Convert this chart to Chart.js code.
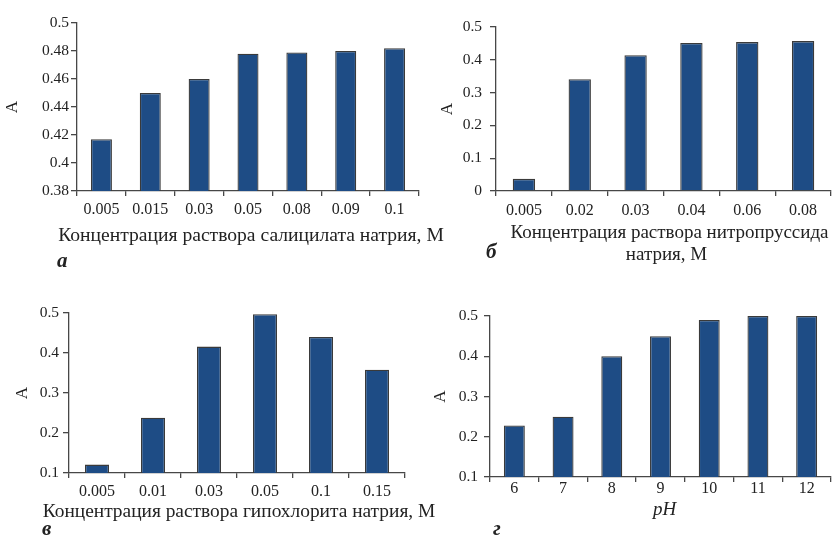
<!DOCTYPE html>
<html><head><meta charset="utf-8">
<script src="https://cdn.jsdelivr.net/npm/chart.js@4/dist/chart.umd.min.js"></script>
<style>
html,body{margin:0;padding:0;background:#fff;}
#wrap{position:relative;width:836px;height:535px;overflow:hidden;background:#fff;}
canvas{position:absolute;}
.lt{position:absolute;font-family:"Liberation Serif",serif;font-style:italic;font-weight:bold;font-size:21px;color:#222;line-height:1;}
</style></head>
<body><div id="wrap">
<canvas id="ca" width="460" height="270" style="left:0;top:0"></canvas>
<canvas id="cb" width="418" height="270" style="left:418px;top:0"></canvas>
<canvas id="cc" width="460" height="270" style="left:0;top:265px"></canvas>
<canvas id="cd" width="418" height="270" style="left:418px;top:265px"></canvas>
<div class="lt" style="left:57px;top:250px">а</div>
<div class="lt" style="left:486px;top:241px">б</div>
<div class="lt" style="left:42px;top:518px">в</div>
<div class="lt" style="left:493px;top:518px">г</div>
</div>
<script>
// Panel а: sodium salicylate
const catsA = ['0.005','0.015','0.03','0.05','0.08','0.09','0.1'];
const valsA = [0.417,0.450,0.460,0.478,0.479,0.480,0.482];
// Panel б: sodium nitroprusside
const catsB = ['0.005','0.02','0.03','0.04','0.06','0.08'];
const valsB = [0.037,0.341,0.414,0.451,0.454,0.457];
// Panel в: sodium hypochlorite
const catsC = ['0.005','0.01','0.03','0.05','0.1','0.15'];
const valsC = [0.121,0.238,0.416,0.497,0.440,0.358];
// Panel г: pH
const catsD = ['6','7','8','9','10','11','12'];
const valsD = [0.228,0.250,0.400,0.450,0.490,0.500,0.500];

const titleA = ['Концентрация раствора салицилата натрия, М'];
const titleB = ['Концентрация раствора нитропруссида','натрия, М'];
const titleC = ['Концентрация раствора гипохлорита натрия, М'];
const titleD = ['pH'];
const yTitle = 'A';

const FONT = "'Liberation Serif', 'Times New Roman', serif";
const AX = '#474747';

// draws the x-axis title without Chart.js's width squeezing
const xTitlePlugin = {
  id:'xtitle',
  afterDraw(chart, args, opts){
    if(!opts || !opts.lines) return;
    const ctx = chart.ctx, ca = chart.chartArea;
    ctx.save();
    ctx.fillStyle = '#222';
    ctx.font = (opts.style||'normal') + ' ' + opts.size + 'px ' + FONT;
    ctx.textAlign = 'center';
    ctx.textBaseline = 'middle';
    opts.lines.forEach((t,i)=>{
      const dx = (opts.dx && opts.dx[i]) || 0;
      ctx.fillText(t, (ca.left+ca.right)/2 + dx, opts.y + i*opts.lh);
    });
    ctx.restore();
  }
};

function makeChart(id, cats, vals, xTitle, o){
  new Chart(document.getElementById(id), {
    type:'bar',
    data:{labels:cats, datasets:[{data:vals, backgroundColor:'#1e4c85', borderColor:'#3a3a3a', borderWidth:1.3, barPercentage:o.bp, categoryPercentage:1}]},
    plugins:[xTitlePlugin],
    options:{
      responsive:false, animation:false, devicePixelRatio:1,
      layout:{padding:{left:0, top:o.top, right:o.right, bottom:0}},
      plugins:{legend:{display:false}, tooltip:{enabled:false},
        xtitle:{lines:xTitle, size:o.ts, style:o.xstyle, y:o.ty, lh:o.tlh||22, dx:o.tdx}},
      scales:{
        x:{
          offset:true,
          grid:{display:true, offset:true, drawOnChartArea:false, drawTicks:true, tickLength:5, color:AX, lineWidth:1.3},
          border:{display:true, color:AX, width:1.3},
          ticks:{font:{family:FONT, size:16}, color:'#222', padding:o.xpad, maxRotation:0, autoSkip:false},
          title:{display:false},
          afterFit:(s)=>{s.height=o.xh;}
        },
        y:{
          min:o.min, max:o.max,
          grid:{display:true, drawOnChartArea:false, drawTicks:true, tickLength:6, color:AX, lineWidth:1.3},
          border:{display:true, color:AX, width:1.3},
          ticks:{stepSize:o.step, font:{family:FONT, size:15.5}, color:'#222', padding:o.ypad,
            callback:(v)=>String(Math.round(v*1000)/1000)},
          title:{display:true, text:yTitle, font:{family:FONT, size:17}, color:'#222', padding:{top:o.ytp,bottom:0}},
          afterFit:(s)=>{s.width=o.yw;}
        }
      }
    }
  });
}

makeChart('ca', catsA, valsA, titleA, {bp:0.43, top:23, right:41, xh:79, yw:77, min:0.38, max:0.5, step:0.02, xpad:4, ts:19.6, ty:236, tdx:[3], ytp:2, ypad:2});
makeChart('cb', catsB, valsB, titleB, {bp:0.40, top:27, right:5, xh:79, yw:78, min:0, max:0.5, step:0.1, xpad:5, ts:19, ty:233, tlh:22, tdx:[6,3], ytp:19, ypad:8});
makeChart('cc', catsC, valsC, titleC, {bp:0.43, top:48, right:55, xh:62, yw:69, min:0.1, max:0.5, step:0.1, xpad:4, ts:19.4, ty:246.5, tdx:[2], ytp:12, ypad:4});
makeChart('cd', catsD, valsD, titleD, {bp:0.43, top:51, right:5, xh:58, yw:72, min:0.1, max:0.5, step:0.1, xpad:-3, ts:19, ty:245, tdx:[4], xstyle:'italic', ytp:12, ypad:6});
</script>
</body></html>
